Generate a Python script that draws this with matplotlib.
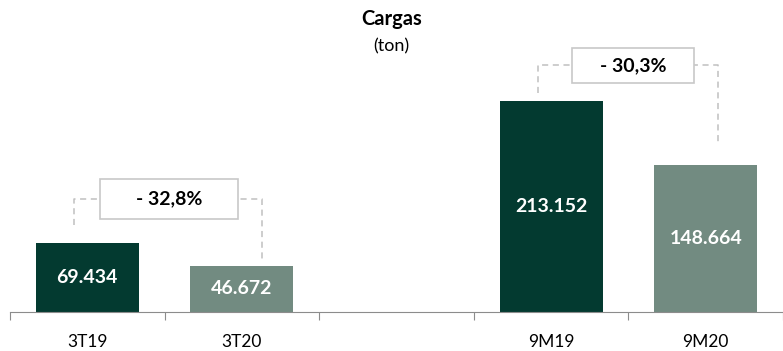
import matplotlib.pyplot as plt
from matplotlib.patches import Rectangle
import numpy as np

# data (mil ton)
categories = ["3T19", "3T20", "", "9M19", "9M20"]
values = [69.434, 46.672, None, 213.152, 148.664]
bar_colors = ["#033a30", "#728b81", None, "#033a30", "#728b81"]
changes = ["- 32,8%", "- 30,3%"]
pairs = [(0, 1), (3, 4)]

plt.rcParams['font.family'] = ['Lato', 'DejaVu Sans']

fig = plt.figure(figsize=(7.83, 3.51), dpi=100)
W, H = 783, 351
ax = fig.add_axes([10 / W, (H - 312) / H, 773 / W, 312 / H])
ax.set_xlim(-0.5, -0.5 + 4.87)
ax.set_ylim(0, 315)

x = np.arange(len(categories))
for i, v in enumerate(values):
    if v is None:
        continue
    ax.bar(x[i], v, width=0.665, color=bar_colors[i], zorder=2)
    ax.text(x[i], v / 2, f"{v:.3f}", ha="center", va="center",
            color="white", fontsize=14, fontweight="bold", zorder=3)

# change boxes with dashed connectors
levels = [114, 249]
box_h = [41, 36]
box_w = [0.89, 0.79]
gaps = [(18, 7), (8, 22)]
right_off = [0.127, 0.08]
dash = dict(color="#c0c0c0", lw=1.1, ls=(0, (4, 3)), zorder=1)
for k, ((a, b), txt) in enumerate(zip(pairs, changes)):
    lv, bh, bw = levels[k], box_h[k], box_w[k]
    ga, gb = gaps[k]
    xa, xb = x[a] - 0.085, x[b] + right_off[k]
    ax.plot([xa, xa, xb, xb], [values[a] + ga, lv, lv, values[b] + gb], **dash)
    mid = (x[a] + x[b]) / 2 + 0.03
    ax.add_patch(Rectangle((mid - bw / 2, lv - bh / 2), bw, bh,
                           facecolor="white", edgecolor="#c8c8c8", lw=1.2, zorder=2))
    ax.text(mid, lv, txt, ha="center", va="center", fontsize=14,
            fontweight="bold", color="black", zorder=3)

for s in ["top", "right", "left"]:
    ax.spines[s].set_visible(False)
ax.spines["bottom"].set_color("#8c8c8c")
ax.set_yticks([])
ax.set_xticks(np.arange(-0.5, 5, 1))
ax.set_xticklabels([])
ax.tick_params(axis="x", which="major", length=6, color="#8c8c8c")
ax.set_xticks(x, minor=True)
ax.set_xticklabels(categories, minor=True, fontsize=12.5)
ax.tick_params(axis="x", which="minor", length=0, pad=16)

fig.text(0.5, 1 - 19 / H, "Cargas", ha="center", va="center",
         fontsize=14.5, fontweight="bold")
fig.text(0.5, 1 - 46 / H, "(ton)", ha="center", va="center", fontsize=13)

fig.savefig("out.png", dpi=100)
